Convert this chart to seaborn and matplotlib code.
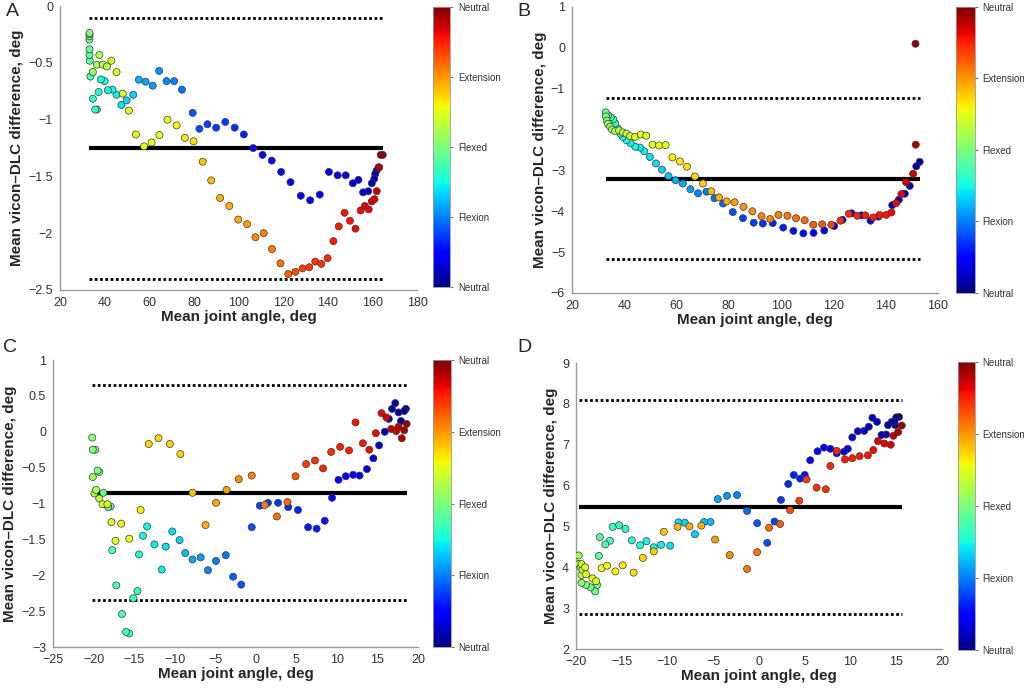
import seaborn as sns
import matplotlib.pyplot as plt
import matplotlib as mpl
import numpy as np
import pandas as pd
from matplotlib.cm import ScalarMappable
from matplotlib.colors import Normalize
from matplotlib.ticker import FuncFormatter

# ---- panel A: mean joint angle, mean difference, phase (0..1) ----
a_x = [162.6, 161.7, 161.1, 160.7, 159.6, 158.0, 155.7, 153.6, 151.1, 147.9, 144.3, 140.4, 136.3,
       132.0, 127.8, 123.2, 119.0, 114.8, 110.7, 106.5, 102.3, 98.2, 94.0, 89.9, 86.0, 82.4, 79.4,
       74.6, 71.1, 67.7, 64.4, 61.5, 58.3, 55.3, 52.8, 49.8, 47.5, 45.3, 43.5, 41.4, 40.0, 38.3,
       37.3, 36.5, 35.8, 34.7, 33.6, 33.3, 33.2, 33.2, 33.2, 33.2, 33.2, 33.2,
       34.7, 36.5, 37.6, 39.2, 41.0, 43.0, 45.3, 48.1, 50.8, 54.0, 57.6, 61.0, 64.5, 68.1, 72.2,
       75.9, 79.8, 83.9, 87.7, 91.7, 95.8, 99.8, 103.8, 107.5, 111.2, 114.9, 118.7, 122.2, 125.4,
       128.6, 131.6, 134.3, 137.0, 139.8, 142.4, 144.8, 147.4, 149.8, 152.3, 154.6, 156.5, 158.2,
       159.6, 160.8, 161.8, 162.9, 163.6, 164.5]
a_y = [-1.42, -1.45, -1.48, -1.52, -1.56, -1.63, -1.64, -1.53, -1.56, -1.49, -1.49, -1.46, -1.66,
       -1.71, -1.67, -1.55, -1.46, -1.36, -1.31, -1.25, -1.13, -1.07, -1.02, -1.07, -1.04, -1.08, -0.94,
       -0.735, -0.66, -0.66, -0.57, -0.70, -0.665, -0.647, -0.78, -0.83, -0.87, -0.78, -0.735, -0.74,
       -0.66, -0.645, -0.756, -0.91, -0.91, -0.815, -0.62, -0.48, -0.43, -0.38, -0.294, -0.265,
       -0.247, -0.235,
       -0.58, -0.515, -0.43, -0.515, -0.53, -0.48, -0.58, -0.77, -0.92, -1.13, -1.235, -1.2, -1.135,
       -1.0, -1.05, -1.16, -1.19, -1.37, -1.535, -1.69, -1.76, -1.88, -1.92, -2.035, -2.0, -2.14,
       -2.265, -2.36, -2.34, -2.31, -2.3, -2.25, -2.27, -2.22, -2.07, -1.94, -1.82, -1.89, -1.96,
       -1.80, -1.76, -1.79, -1.72, -1.70, -1.63, -1.42, -1.31, -1.31]
a_c = [0.03, 0.04, 0.04, 0.05, 0.05, 0.06, 0.07, 0.08, 0.08, 0.09, 0.09, 0.1, 0.1, 0.11, 0.11,
       0.12, 0.12, 0.13, 0.13, 0.14, 0.16, 0.17, 0.18, 0.18, 0.19, 0.2, 0.21, 0.24, 0.25, 0.26, 0.27,
       0.28, 0.29, 0.3, 0.33, 0.34, 0.35, 0.36, 0.37, 0.37, 0.38, 0.38, 0.39, 0.4, 0.4, 0.41, 0.43,
       0.45, 0.46, 0.47, 0.48, 0.49, 0.5, 0.5,
       0.53, 0.55, 0.56, 0.57, 0.58, 0.6, 0.61, 0.62, 0.62, 0.63, 0.63, 0.64, 0.64, 0.64, 0.65, 0.66,
       0.67, 0.7, 0.71, 0.72, 0.72, 0.73, 0.74, 0.76, 0.77, 0.78, 0.79, 0.81, 0.83, 0.84, 0.85, 0.86,
       0.86, 0.87, 0.88, 0.88, 0.89, 0.89, 0.9, 0.9, 0.91, 0.91, 0.92, 0.92, 0.93, 0.95, 0.97, 0.98]
a_lines = [-0.1, -1.25, -2.4]  # upper limit, mean, lower limit

# ---- panel B ----
b_x = [153.0, 151.7, 149.2, 147.3, 145.0, 142.5, 137.2, 134.2, 130.7, 127.0, 123.5, 120.3, 116.5,
       112.4, 108.5, 104.7, 100.8, 96.8, 93.0, 89.5, 85.4, 81.5, 77.8, 74.5, 71.4, 68.2, 65.3, 62.4,
       59.6, 56.9, 54.4, 52.1, 49.8, 47.6, 46.0, 44.2, 42.4, 40.9, 39.4, 38.5, 37.5, 36.5, 35.8,
       34.8, 33.8, 32.9,
       33.0, 33.3, 33.8, 34.6, 35.3, 36.5, 38.0, 39.5, 40.8, 42.2, 44.1, 46.3, 48.4, 50.8, 53.3,
       55.8, 58.4, 61.3, 64.0, 67.0, 70.1, 73.3, 76.2, 79.2, 82.2, 85.6, 89.0, 92.5, 95.8, 99.0,
       102.4, 105.7, 109.0, 112.3, 115.7, 119.2, 122.7, 125.9, 129.1, 132.2, 135.2, 137.7, 140.2,
       142.2, 144.0, 146.0, 147.8, 150.5, 151.5, 151.4]
b_y = [-2.79, -2.9, -3.38, -3.57, -3.72, -3.85, -4.13, -4.23, -4.1, -4.05, -4.21, -4.36, -4.47,
       -4.53, -4.54, -4.48, -4.4, -4.29, -4.3, -4.28, -4.17, -4.02, -3.81, -3.68, -3.52, -3.56, -3.46,
       -3.32, -3.24, -3.14, -2.98, -2.83, -2.67, -2.53, -2.44, -2.42, -2.33, -2.26, -2.18, -2.1,
       -1.97, -1.85, -1.75, -1.7, -1.65, -1.58,
       -1.68, -1.78, -1.86, -1.93, -2.0, -2.04, -2.02, -2.07, -2.1, -2.16, -2.18, -2.12, -2.15,
       -2.37, -2.39, -2.38, -2.68, -2.78, -2.91, -3.15, -3.32, -3.51, -3.66, -3.76, -3.78, -3.89,
       -4.0, -4.12, -4.19, -4.09, -4.11, -4.17, -4.22, -4.33, -4.32, -4.33, -4.23, -4.06, -4.11,
       -4.1, -4.15, -4.09, -4.09, -4.03, -3.8, -3.58, -3.29, -3.08, -2.37, 0.1]
b_c = [0.02, 0.03, 0.04, 0.05, 0.06, 0.07, 0.08, 0.08, 0.09, 0.09, 0.1, 0.1, 0.11, 0.12, 0.13,
       0.14, 0.15, 0.16, 0.17, 0.18, 0.19, 0.2, 0.22, 0.24, 0.25, 0.26, 0.28, 0.29, 0.3, 0.32, 0.33,
       0.34, 0.35, 0.36, 0.36, 0.37, 0.37, 0.38, 0.38, 0.39, 0.4, 0.41, 0.42, 0.43, 0.45, 0.47,
       0.5, 0.51, 0.52, 0.53, 0.54, 0.55, 0.56, 0.57, 0.58, 0.6, 0.61, 0.62, 0.62, 0.63, 0.63, 0.64,
       0.65, 0.66, 0.67, 0.68, 0.69, 0.71, 0.72, 0.73, 0.74, 0.75, 0.76, 0.77, 0.77, 0.78, 0.78,
       0.79, 0.8, 0.81, 0.82, 0.84, 0.86, 0.87, 0.87, 0.88, 0.88, 0.89, 0.89, 0.9, 0.9, 0.91, 0.92,
       0.93, 0.96, 0.98]
b_lines = [-1.22, -3.2, -5.18]

# ---- panel C ----
c_x = [18.5, 18.3, 17.9, 17.6, 17.2, 16.8, 16.4, 15.9, 15.2, 14.5, 13.7, 12.8, 12.0, 11.1, 10.2,
       9.4, 8.5, 7.5, 6.45, 5.2, 4.0, 2.75, 1.5, 0.5, -0.5, -1.8, -2.8, -3.7, -4.9, -5.9, -6.8,
       -7.8, -8.7, -9.4, -10.3, -11.1, -11.6, -12.5, -13.4, -13.9, -14.4, -14.6, -15.1, -15.6,
       -16.0, -16.5, -17.2, -17.7, -17.9, -18.2, -18.8, -19.3, -19.5, -19.8, -20.1, -20.17,
       -20.1, -19.9, -19.7, -19.3, -18.9, -18.3, -17.8, -17.3, -16.6, -15.6, -14.2, -13.2, -12.0,
       -10.6, -9.3, -7.8, -6.2, -4.9, -3.6, -2.1, -0.5, 1.1, 2.6, 3.9, 4.9, 6.2, 7.3, 8.3, 9.3,
       10.4, 11.5, 12.3, 13.2, 14.0, 14.8, 15.5, 16.1, 16.7, 17.3, 17.6, 18.0, 18.3, 18.6]
c_y = [0.32, 0.29, 0.15, 0.27, 0.40, 0.32, 0.18, 0.0, -0.19, -0.37, -0.52, -0.61, -0.60, -0.62,
       -0.67, -0.92, -1.24, -1.35, -1.33, -1.09, -1.05, -0.99, -0.99, -1.03, -1.33, -2.13, -2.02,
       -1.72, -1.80, -1.93, -1.75, -1.78, -1.69, -1.51, -1.39, -1.6, -1.92, -1.57, -1.32, -1.45,
       -1.71, -2.22, -2.32, -2.81, -2.79, -2.54, -2.14, -1.65, -1.04, -1.05, -0.85, -0.56, -0.54,
       -0.25, -0.25, -0.08,
       -0.63, -0.86, -0.81, -0.93, -1.01, -1.01, -1.26, -1.52, -1.28, -1.49, -1.09, -0.17, -0.09,
       -0.17, -0.31, -0.85, -1.30, -0.99, -0.81, -0.66, -0.61, -1.02, -1.18, -0.98, -0.62, -0.45,
       -0.40, -0.51, -0.28, -0.21, -0.26, 0.13, -0.16, -0.25, -0.02, 0.26, 0.2, 0.04, 0.01, 0.07,
       -0.09, 0.02, 0.11]
c_c = [0.02, 0.02, 0.03, 0.03, 0.04, 0.04, 0.05, 0.06, 0.07, 0.08, 0.09, 0.1, 0.11, 0.11, 0.12,
       0.13, 0.14, 0.15, 0.15, 0.16, 0.17, 0.18, 0.19, 0.19, 0.2, 0.21, 0.22, 0.24, 0.25, 0.26,
       0.28, 0.29, 0.31, 0.33, 0.34, 0.35, 0.36, 0.36, 0.37, 0.38, 0.39, 0.41, 0.42, 0.42, 0.43,
       0.43, 0.44, 0.45, 0.46, 0.47, 0.48, 0.49, 0.5, 0.5, 0.51, 0.52,
       0.54, 0.55, 0.56, 0.58, 0.6, 0.61, 0.62, 0.62, 0.63, 0.64, 0.66, 0.68, 0.68, 0.69, 0.69,
       0.7, 0.72, 0.73, 0.74, 0.76, 0.77, 0.78, 0.79, 0.8, 0.82, 0.85, 0.86, 0.87, 0.87, 0.88,
       0.88, 0.89, 0.89, 0.9, 0.9, 0.91, 0.92, 0.93, 0.94, 0.95, 0.96, 0.96, 0.97]
c_lines = [0.65, -0.85, -2.35]

# ---- panel D ----
d_x = [15.3, 15.0, 14.9, 14.8, 14.5, 14.1, 13.9, 13.4, 12.9, 12.4, 12.0, 11.5, 10.8, 10.2, 9.7,
       9.3, 8.5, 7.8, 7.1, 6.4, 5.6, 5.0, 4.5, 3.8, 3.2, 2.4, 1.7, 0.9, -0.2, -1.3, -2.4, -3.5,
       -4.5, -5.3, -6.0, -7.0, -8.1, -8.8, -9.7, -10.7, -11.5, -12.3, -13.0, -13.9, -14.6, -15.3,
       -16.0, -16.3, -16.8, -17.4, -17.5, -17.7, -17.9, -18.4, -18.9, -19.4,
       -19.7, -19.7, -19.5, -19.4, -19.3, -19.4, -19.0, -18.9, -18.2, -17.8, -17.2, -16.6, -15.7,
       -14.9, -13.7, -12.7, -11.5, -10.4, -8.9, -7.6, -6.3, -4.8, -3.2, -1.3, -0.2, 1.1, 2.3, 3.4,
       4.4, 5.2, 6.3, 7.3, 7.8, 8.5, 9.4, 10.2, 11.0, 11.9, 12.5, 13.0, 13.7, 14.4, 14.7, 15.2, 15.6]
d_y = [7.68, 7.67, 7.48, 7.56, 7.56, 7.48, 7.25, 7.24, 7.56, 7.66, 7.44, 7.34, 7.33, 7.18, 6.9,
       6.83, 6.79, 6.9, 6.93, 6.84, 6.62, 6.26, 6.17, 6.26, 6.04, 5.65, 5.12, 4.6, 5.08, 5.38, 5.77,
       5.75, 5.67, 5.11, 5.11, 4.81, 5.09, 5.1, 4.53, 4.55, 4.49, 4.64, 4.54, 4.66, 4.94, 5.03,
       4.99, 4.65, 4.56, 4.74, 4.28, 3.57, 3.41, 3.51, 3.57, 3.62,
       4.29, 4.08, 4.0, 3.81, 3.94, 4.08, 4.0, 3.83, 3.73, 3.66, 3.98, 4.04, 3.9, 4.05, 3.87, 4.23,
       4.39, 4.87, 4.99, 5.0, 5.02, 4.68, 4.3, 3.96, 4.37, 4.97, 5.06, 5.4, 5.63, 6.15, 5.95, 5.91,
       6.48, 6.85, 6.64, 6.67, 6.72, 6.74, 6.87, 7.09, 7.03, 7.0, 7.22, 7.31, 7.47]
d_c = [0.02, 0.02, 0.03, 0.03, 0.04, 0.04, 0.05, 0.05, 0.06, 0.06, 0.07, 0.07, 0.08, 0.08, 0.09,
       0.09, 0.1, 0.1, 0.11, 0.12, 0.13, 0.14, 0.15, 0.16, 0.17, 0.18, 0.19, 0.2, 0.21, 0.23, 0.25,
       0.27, 0.29, 0.31, 0.32, 0.33, 0.34, 0.34, 0.35, 0.36, 0.37, 0.38, 0.38, 0.39, 0.4, 0.41,
       0.42, 0.43, 0.44, 0.45, 0.46, 0.47, 0.48, 0.49, 0.5, 0.52,
       0.54, 0.56, 0.57, 0.58, 0.59, 0.59, 0.6, 0.61, 0.62, 0.62, 0.63, 0.64, 0.65, 0.66, 0.67,
       0.68, 0.69, 0.7, 0.71, 0.72, 0.73, 0.74, 0.76, 0.78, 0.79, 0.8, 0.81, 0.83, 0.84, 0.85,
       0.86, 0.86, 0.87, 0.87, 0.88, 0.88, 0.89, 0.89, 0.9, 0.91, 0.91, 0.92, 0.94, 0.95, 0.97]
d_lines = [8.1, 5.47, 2.85]

phase_ticks = [0, 0.25, 0.5, 0.75, 1]
phase_labels = ['Neutral', 'Flexion', 'Flexed', 'Extension', 'Neutral']

sns.set_style('white')
plt.rcParams['font.family'] = ['Liberation Sans', 'DejaVu Sans']

jet = mpl.colormaps['jet']
norm = Normalize(0, 1)

fig = plt.figure(figsize=(10.24, 6.92), dpi=100)

panels = [
    ('A', a_x, a_y, a_c, a_lines, (20, 180), np.arange(20, 181, 20), (-2.5, 0), np.arange(-2.5, 0.01, 0.5),
     [0.0586, 0.581, 0.349, 0.410], [0.423, 0.585, 0.0166, 0.405], (0.006, 0.995)),
    ('B', b_x, b_y, b_c, b_lines, (20, 160), np.arange(20, 161, 20), (-6, 1), np.arange(-6, 1.01, 1),
     [0.5586, 0.5766, 0.3574, 0.4133], [0.9336, 0.5766, 0.0186, 0.4133], (0.505, 0.995)),
    ('C', c_x, c_y, c_c, c_lines, (-25, 20), np.arange(-25, 21, 5), (-3, 1), np.arange(-3, 1.01, 0.5),
     [0.0518, 0.065, 0.3564, 0.4147], [0.4229, 0.065, 0.0176, 0.4147], (0.003, 0.51)),
    ('D', d_x, d_y, d_c, d_lines, (-20, 20), np.arange(-20, 21, 5), (2, 9), np.arange(2, 9.01, 1),
     [0.5625, 0.0621, 0.3574, 0.4133], [0.9355, 0.0607, 0.0166, 0.4162], (0.505, 0.51)),
]

fmt = FuncFormatter(lambda v, p: f"{v:g}".replace('-', '\u2212'))

for letter, xs, ys, cs, lines, xlim, xticks, ylim, yticks, pos, cpos, lpos in panels:
    ax = fig.add_axes(pos)
    df = pd.DataFrame({'angle': xs, 'diff': ys, 'phase': cs})

    # limits of agreement (dotted) and mean bias (solid)
    x0, x1 = min(xs), max(xs)
    ax.hlines([lines[0], lines[2]], x0, x1, colors='black', linestyles=(0, (1, 0.9)), linewidth=2, zorder=1)
    ax.hlines(lines[1], x0, x1, colors='black', linewidth=3, zorder=1)

    sns.scatterplot(data=df, x='angle', y='diff', hue='phase', palette=jet, hue_norm=norm,
                    s=26, edgecolor='#3a3a3a', linewidth=0.5, legend=False, ax=ax, zorder=3)

    ax.set_xlim(xlim)
    ax.set_ylim(ylim)
    ax.set_xticks(xticks)
    ax.set_yticks(yticks)
    ax.xaxis.set_major_formatter(fmt)
    ax.yaxis.set_major_formatter(fmt)
    ax.tick_params(direction='in', length=3, width=0.8, colors='#999999', labelcolor='#333333',
                   labelsize=9)
    ax.tick_params(axis='x', pad=5)
    ax.tick_params(axis='y', pad=5)
    sns.despine(ax=ax)
    for sp in ('left', 'bottom'):
        ax.spines[sp].set_color('#999999')
        ax.spines[sp].set_linewidth(1)
    ax.set_xlabel('Mean joint angle, deg', fontsize=11, fontweight='bold', labelpad=1)
    ax.set_ylabel('Mean vicon\u2013DLC difference, deg', fontsize=11, fontweight='bold', labelpad=3)

    cax = fig.add_axes(cpos)
    sm = ScalarMappable(norm=norm, cmap=jet)
    cb = fig.colorbar(sm, cax=cax, ticks=phase_ticks)
    cb.ax.set_yticklabels(phase_labels)
    cb.ax.tick_params(labelsize=7, length=2, colors='#777777', labelcolor='#333333')
    cb.outline.set_edgecolor('#999999')
    cb.outline.set_linewidth(0.6)

    fig.text(lpos[0], lpos[1], letter, fontsize=14, va='top', ha='left')

fig.savefig('out.png', dpi=100)
